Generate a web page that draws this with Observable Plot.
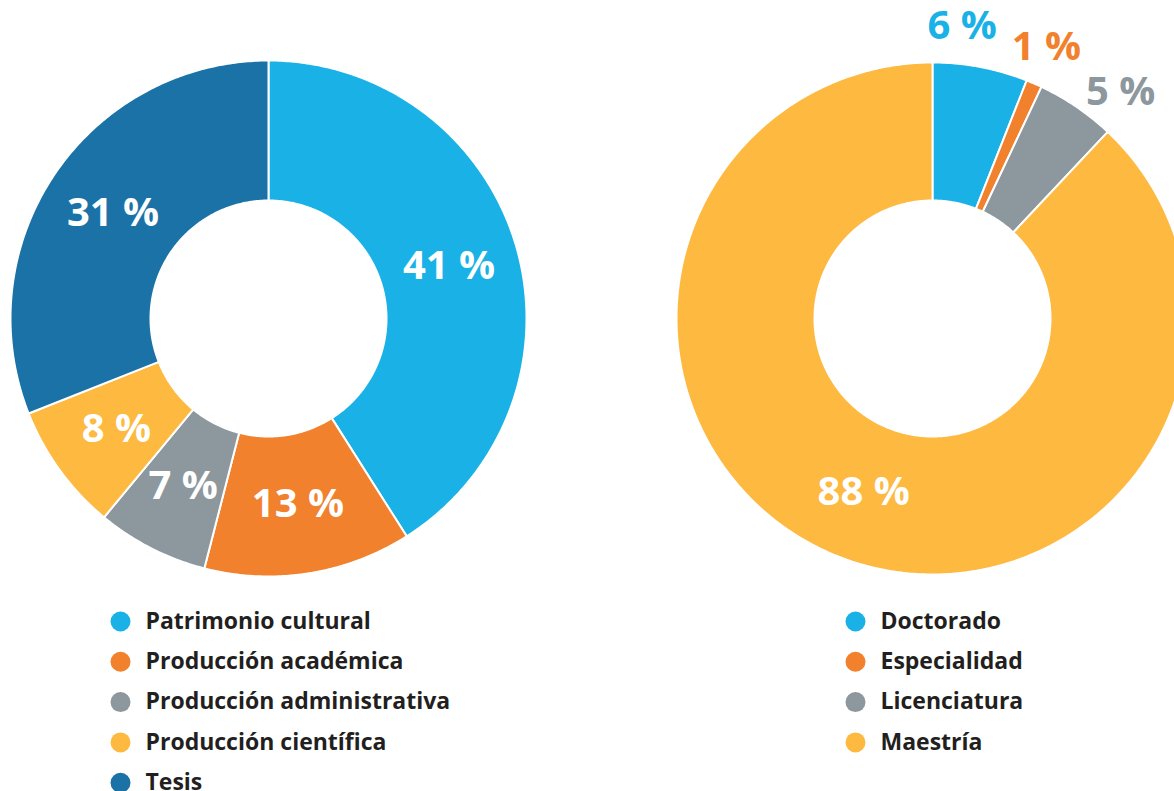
<!DOCTYPE html>
<html><head><meta charset="utf-8">
<script src="https://cdn.jsdelivr.net/npm/d3@7"></script>
<script src="https://cdn.jsdelivr.net/npm/@observablehq/plot@0.6"></script>
<style>html,body{margin:0;padding:0;background:#fff;overflow:hidden;}</style>
</head><body><div id="chart"></div>
<script>
// ---- Data ----
const leftCategories = ["Patrimonio cultural", "Producción académica", "Producción administrativa", "Producción científica", "Tesis"];
const leftValues = [41, 13, 7, 8, 31];
const leftColors = ["#1ab2e6", "#f2812e", "#8c979e", "#fdb940", "#1a72a6"];

const rightCategories = ["Doctorado", "Especialidad", "Licenciatura", "Maestría"];
const rightValues = [6, 1, 5, 88];
const rightColors = ["#1ab2e6", "#f2812e", "#8c979e", "#fdb940"];
const rightLabelOutside = [true, true, true, false];

// ---- Layout ----
const W = 1174, H = 791;
const donuts = [
  {cats: leftCategories, vals: leftValues, cols: leftColors, outside: leftCategories.map(() => false), cx: 268, cy: 318, r0: 118, r1: 258, legendX: 120},
  {cats: rightCategories, vals: rightValues, cols: rightColors, outside: rightLabelOutside, cx: 932, cy: 318, r0: 118, r1: 256, legendX: 855}
];
const legendY0 = 621, legendStep = 40.3;
const minOutsideSep = 17 * Math.PI / 180;

const polys = [], labels = [], legend = [];
donuts.forEach((d, di) => {
  const total = d3.sum(d.vals);
  let acc = 0;
  const outs = [];
  d.cats.forEach((c, i) => {
    const a0 = acc / total * 2 * Math.PI;
    acc += d.vals[i];
    const a1 = acc / total * 2 * Math.PI;
    const n = Math.max(2, Math.ceil((a1 - a0) / 0.01));
    const key = di + "|" + c;
    for (let k = 0; k <= n; k++) {
      const a = a0 + (a1 - a0) * k / n;
      polys.push({key, cat: c, x: d.cx + d.r1 * Math.sin(a), y: d.cy - d.r1 * Math.cos(a)});
    }
    for (let k = n; k >= 0; k--) {
      const a = a0 + (a1 - a0) * k / n;
      polys.push({key, cat: c, x: d.cx + d.r0 * Math.sin(a), y: d.cy - d.r0 * Math.cos(a)});
    }
    const am = (a0 + a1) / 2;
    const lab = {text: d.vals[i] + " %", a: am, r: (d.r0 + d.r1) / 2, color: "white"};
    if (d.outside[i]) { lab.r = d.r1 + 38; lab.color = d.cols[i]; outs.push(lab); }
    labels.push(Object.assign(lab, {cx: d.cx, cy: d.cy}));
    legend.push({cat: c, x: d.legendX, y: legendY0 + i * legendStep});
  });
  // spread outside labels apart in angle so they don't overlap
  for (let it = 0; it < 50; it++) {
    for (let j = 1; j < outs.length; j++) {
      const gap = outs[j].a - outs[j - 1].a;
      if (gap < minOutsideSep) {
        const s = (minOutsideSep - gap) / 2;
        outs[j - 1].a -= s; outs[j].a += s;
      }
    }
  }
});
labels.forEach(l => { l.x = l.cx + l.r * Math.sin(l.a); l.y = l.cy - l.r * Math.cos(l.a); });

const chart = Plot.plot({
  width: W, height: H,
  margin: 0,
  x: {domain: [0, W], range: [0, W], axis: null},
  y: {domain: [0, H], range: [0, H], axis: null},
  color: {domain: leftCategories.concat(rightCategories), range: leftColors.concat(rightColors)},
  style: {fontFamily: "'Open Sans', sans-serif", background: "white", overflow: "hidden"},
  marks: [
    Plot.line(polys, {x: "x", y: "y", z: "key", fill: "cat", stroke: "white", strokeWidth: 2, curve: "linear-closed"}),
    Plot.text(labels, {x: "x", y: "y", text: "text", fill: d => d.color, fontSize: 40, fontWeight: "bold", textAnchor: "middle", lineAnchor: "middle"}),
    Plot.dot(legend, {x: "x", y: "y", r: 10, fill: "cat", stroke: null}),
    Plot.text(legend, {x: d => d.x + 25, y: "y", text: "cat", fill: "#231f20", fontSize: 23, fontWeight: "bold", textAnchor: "start", lineAnchor: "middle"})
  ]
});
document.getElementById("chart").append(chart);
</script>
</body></html>
